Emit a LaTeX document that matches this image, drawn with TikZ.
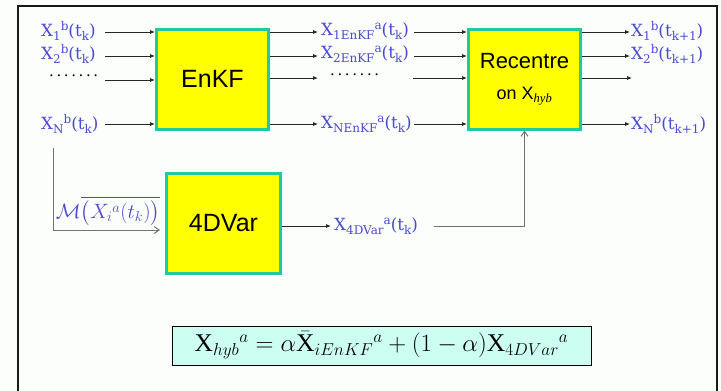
\documentclass[tikz,border=0pt]{standalone}
\usepackage{amsmath}
\usepackage{fontspec}
\setmainfont{Liberation Serif}
\newfontfamily\boxfont{Liberation Sans}
\newfontfamily\labfont{DejaVu Serif}
\usetikzlibrary{arrows.meta,calc}
\definecolor{lblue}{HTML}{4A4AD6}
\definecolor{tealb}{HTML}{1ECBA0}
\definecolor{ybox}{HTML}{FFFF00}
\definecolor{fcyan}{HTML}{CCFFF2}
\definecolor{bgc}{HTML}{FCFEFC}
\newcommand{\sbx}[1]{\raisebox{-3.5pt}{\fontsize{12}{13}\selectfont #1}}
\newcommand{\spx}[1]{\raisebox{6pt}{\fontsize{12}{13}\selectfont #1}}
\newcommand{\lb}[3]{X\sbx{#1}\spx{#2}(t\sbx{#3})}
\newcommand{\dotrow}{.\hspace{2.6pt}.\hspace{2.6pt}.\hspace{2.6pt}.\hspace{2.6pt}.\hspace{2.6pt}.\hspace{2.6pt}.}
\begin{document}
\begin{tikzpicture}[x=1pt,y=-1pt,
  box/.style={draw=tealb,line width=3pt,fill=ybox,inner sep=0pt,font=\boxfont\fontsize{25}{28}\selectfont},
  lab/.style={text=lblue,anchor=west,inner sep=1pt,font=\labfont\fontsize{16.8}{18}\selectfont},
  dots/.style={anchor=west,inner sep=0pt,font=\labfont\fontsize{15}{16}\selectfont},
  arr/.style={draw=black!85,line width=0.8pt,-{Latex[length=5pt,width=4pt]}},
  garr/.style={draw=black!55,line width=1pt,-{Straight Barb[length=5pt,width=7pt]}},
  frame/.style={draw=black!90,line width=2.5pt}]
\useasboundingbox (0,0) rectangle (721,391);
\fill[bgc] (0,0) rectangle (721,391);
\draw[frame] (18,391) -- (18,6) -- (717,6) -- (717,391);
% boxes
\node[box,minimum width=112pt,minimum height=100pt] (enkf) at (212.5,79) {EnKF};
\node[box,minimum width=112pt,minimum height=100pt,align=center] (rec) at (524.5,79)
  {\fontsize{22}{24}\selectfont Recentre\\[3pt]\fontsize{18}{20}\selectfont on X$_{\mathit{hyb}}$};
\node[box,minimum width=114pt,minimum height=100pt] (var) at (223.5,223.5) {4DVar};
% inputs
\node[lab] (in1) at (40,31) {\lb{1}{b}{k}};
\node[lab] (in2) at (40,54) {\lb{2}{b}{k}};
\node[dots] (ind) at (49,76) {\dotrow};
\node[lab] (inN) at (40,124) {\lb{N}{b}{k}};
\coordinate (s1) at (105,32);
\coordinate (s2) at (105,56);
\coordinate (sd) at (105,80);
\coordinate (sN) at (105,124);
\draw[arr] (s1) -- (s1 -| enkf.west);
\draw[arr] (s2) -- (s2 -| enkf.west);
\draw[arr] (sd) -- (sd -| enkf.west);
\draw[arr] (sN) -- (sN -| enkf.west);
% EnKF outputs
\node[lab] (a1) at (320,31) {\lb{1EnKF}{a}{k}};
\node[lab] (a2) at (320,54) {\lb{2EnKF}{a}{k}};
\node[dots] (ad) at (330,75) {\dotrow};
\node[lab] (aN) at (320,124) {\lb{NEnKF}{a}{k}};
\coordinate (ad0) at (318,78);
\coordinate (ad1) at (413,78);
\draw[arr] (enkf.east |- 0,32) -- (318,32);
\draw[arr] (enkf.east |- 0,56) -- (318,56);
\draw[arr] (enkf.east |- ad0) -- (ad0);
\draw[arr] (enkf.east |- 0,124) -- (318,124);
\draw[arr] (414,32) -- (rec.west |- 0,32);
\draw[arr] (414,56) -- (rec.west |- 0,56);
\draw[arr] (ad1) -- (ad1 -| rec.west);
\draw[arr] (414,124) -- (rec.west |- 0,124);
% Recentre outputs
\node[lab] (b1) at (630,31) {\lb{1}{b}{k+1}};
\node[lab] (b2) at (630,54) {\lb{2}{b}{k+1}};
\coordinate (bd) at (632,78);
\node[lab] (bN) at (630,124) {\lb{N}{b}{k+1}};
\draw[arr] (rec.east |- 0,32) -- (630,32);
\draw[arr] (rec.east |- 0,56) -- (630,56);
\draw[arr] (rec.east |- bd) -- (bd);
\draw[arr] (rec.east |- 0,124) -- (630,124);
% 4DVar branch
\coordinate (m0) at (53,148);
\coordinate (m1) at (160,230);
\draw[garr] (m0) |- (m1);
\node[text=lblue,inner sep=0pt,font=\fontsize{21}{24}\selectfont] (mlab) at (108,211)
  {$\mathcal{M}\overline{\bigl(X_i{}^{a}(t_k)\bigr)}$};
\node[lab] (x4) at (333,226) {\lb{4DVar}{a}{k}};
\draw[arr] (var.east |- 0,226) -- (331,226);
\coordinate (x4e) at (434,226);
\draw[garr] (x4e) -| (rec.south);
% formula
\node[draw=black,line width=0.8pt,fill=fcyan,minimum width=419pt,minimum height=39pt,inner sep=0pt,
  font=\fontsize{25.5}{28}\selectfont] (form) at (381.5,345.5)
  {$\mathrm{X}_{hyb}{}^{a} = \alpha\bar{\mathrm{X}}_{iEnKF}{}^{a} + (1-\alpha)\mathrm{X}_{4DVar}{}^{a}$};
\end{tikzpicture}
\end{document}
